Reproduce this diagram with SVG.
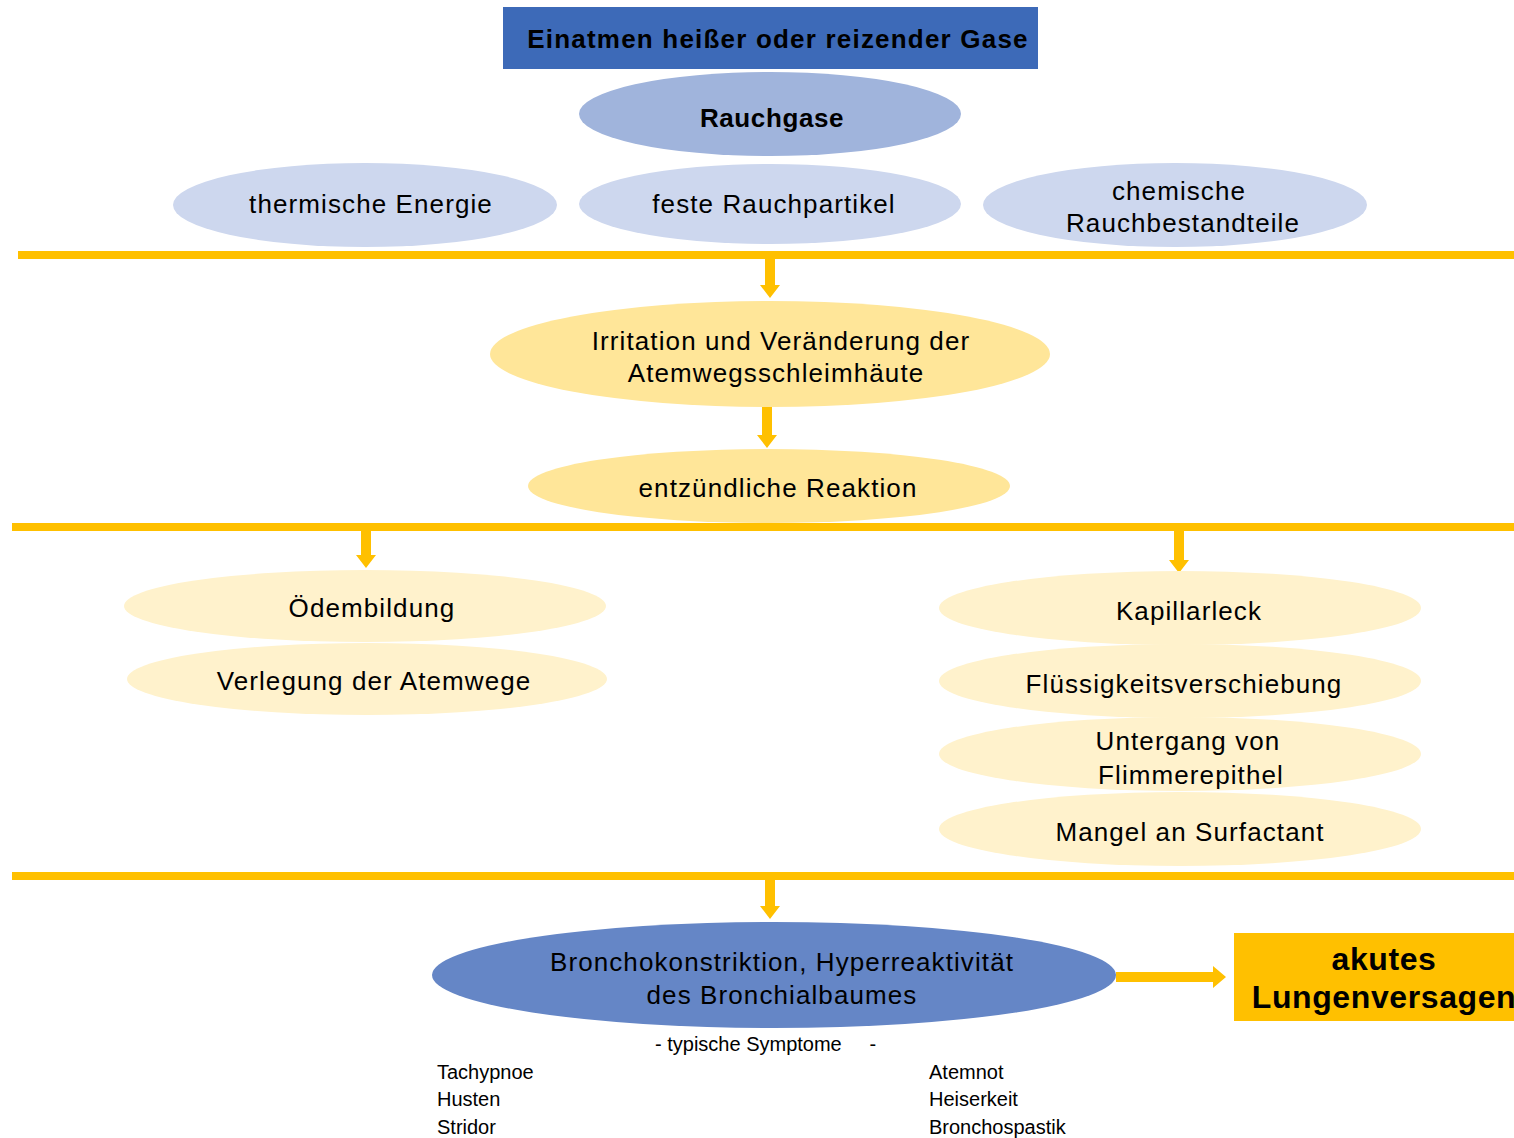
<svg xmlns="http://www.w3.org/2000/svg" width="1514" height="1138" viewBox="0 0 1514 1138">
<defs>
<style>
.t{font-family:"Liberation Sans",Arial,sans-serif;font-size:26px;fill:#000;text-anchor:middle;letter-spacing:1.1px}
.b{font-weight:bold;letter-spacing:0.6px}
.s{font-family:"Liberation Sans",Arial,sans-serif;font-size:20px;fill:#000;letter-spacing:0px}
.l1{fill:#CDD7EE}
.y1{fill:#FFE699}
.y2{fill:#FFF2CC}
.bar{fill:#FFC000}
</style>
</defs>
<rect width="1514" height="1138" fill="#fff"/>
<g id="bars">
<rect class="bar" x="18" y="251" width="1496" height="8"/>
<rect class="bar" x="12" y="523" width="1502" height="8"/>
<rect class="bar" x="12" y="872" width="1502" height="8"/>
</g>
<g id="connectors" fill="#FFC000">
<polygon points="765,259 775,259 775,285 780,285 770,298 760,285 765,285"/>
<polygon points="762,407 772,407 772,435 777,435 767,448 757,435 762,435"/>
<polygon points="361,531 371,531 371,555 376,555 366,568 356,555 361,555"/>
<polygon points="1174,531 1184,531 1184,560 1189,560 1179,573 1169,560 1174,560"/>
<polygon points="765,880 775,880 775,906 780,906 770,919 760,906 765,906"/>
<polygon points="1116,972 1213,972 1213,966 1226,977 1213,988 1213,982 1116,982"/>
</g>
<g id="n-title">
<rect x="503" y="7" width="535" height="62" fill="#3D6AB8"/>
<text class="t b" x="778" y="48" style="letter-spacing:1.2px">Einatmen heißer oder reizender Gase</text>
</g>
<g id="n-rauchgase">
<ellipse cx="770" cy="114" rx="191" ry="42" fill="#A0B4DC"/>
<text class="t b" x="772" y="127">Rauchgase</text>
</g>
<g id="n-thermisch">
<ellipse class="l1" cx="365" cy="205" rx="192" ry="42"/>
<text class="t" x="371" y="213">thermische Energie</text>
</g>
<g id="n-partikel">
<ellipse class="l1" cx="770" cy="204" rx="191" ry="40"/>
<text class="t" x="774" y="213">feste Rauchpartikel</text>
</g>
<g id="n-chemisch">
<ellipse class="l1" cx="1175" cy="205" rx="192" ry="42"/>
<text class="t" x="1179" y="200">chemische</text>
<text class="t" x="1183" y="232">Rauchbestandteile</text>
</g>
<g id="n-irritation">
<ellipse class="y1" cx="770" cy="354" rx="280" ry="53"/>
<text class="t" x="781" y="350">Irritation und Veränderung der</text>
<text class="t" x="776" y="382">Atemwegsschleimhäute</text>
</g>
<g id="n-entz">
<ellipse class="y1" cx="769" cy="486" rx="241" ry="37"/>
<text class="t" x="778" y="497">entzündliche Reaktion</text>
</g>
<g id="n-oedem">
<ellipse class="y2" cx="365" cy="606" rx="241" ry="36"/>
<text class="t" x="372" y="617">Ödembildung</text>
</g>
<g id="n-verlegung">
<ellipse class="y2" cx="367" cy="679" rx="240" ry="36"/>
<text class="t" x="374" y="690">Verlegung der Atemwege</text>
</g>
<g id="n-kapillar">
<ellipse class="y2" cx="1180" cy="608" rx="241" ry="37"/>
<text class="t" x="1189" y="620">Kapillarleck</text>
</g>
<g id="n-fluess">
<ellipse class="y2" cx="1180" cy="681" rx="241" ry="37"/>
<text class="t" x="1184" y="693">Flüssigkeitsverschiebung</text>
</g>
<g id="n-untergang">
<ellipse class="y2" cx="1180" cy="754" rx="241" ry="37"/>
<text class="t" x="1188" y="750">Untergang von</text>
<text class="t" x="1191" y="784">Flimmerepithel</text>
</g>
<g id="n-mangel">
<ellipse class="y2" cx="1180" cy="829" rx="241" ry="37"/>
<text class="t" x="1190" y="841">Mangel an Surfactant</text>
</g>
<g id="n-broncho">
<ellipse cx="774" cy="975" rx="342" ry="53" fill="#6586C6"/>
<text class="t" x="782" y="971">Bronchokonstriktion, Hyperreaktivität</text>
<text class="t" x="782" y="1004">des Bronchialbaumes</text>
</g>
<g id="n-lungenversagen">
<rect x="1234" y="933" width="280" height="88" fill="#FFC000"/>
<text class="t b" x="1384" y="970" style="font-size:32px">akutes</text>
<text class="t b" x="1384" y="1008" style="font-size:32px">Lungenversagen</text>
</g>
<g id="symptome">
<text class="s" x="655" y="1051" xml:space="preserve">- typische Symptome     -</text>
<text class="s" x="437" y="1079">Tachypnoe</text>
<text class="s" x="437" y="1106">Husten</text>
<text class="s" x="437" y="1134">Stridor</text>
<text class="s" x="929" y="1079">Atemnot</text>
<text class="s" x="929" y="1106">Heiserkeit</text>
<text class="s" x="929" y="1134">Bronchospastik</text>
</g>
</svg>
